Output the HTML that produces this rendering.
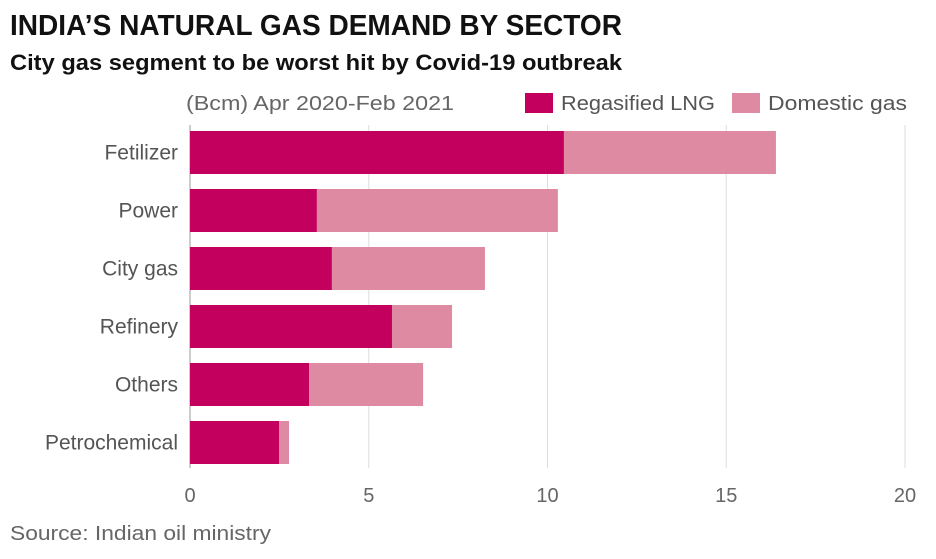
<!DOCTYPE html>
<html><head><meta charset="utf-8"><style>
body{margin:0;background:#fff;}
svg text{font-family:"Liberation Sans",sans-serif;}
</style></head><body>
<svg width="936" height="554" xmlns="http://www.w3.org/2000/svg">
<text x="10" y="35" font-size="29" font-weight="bold" fill="#111" textLength="612" lengthAdjust="spacingAndGlyphs">INDIA’S NATURAL GAS DEMAND BY SECTOR</text>
<text x="10" y="70" font-size="22" font-weight="bold" fill="#111" textLength="612" lengthAdjust="spacingAndGlyphs">City gas segment to be worst hit by Covid-19 outbreak</text>
<text x="186" y="110" font-size="20" fill="#666" textLength="268" lengthAdjust="spacingAndGlyphs">(Bcm) Apr 2020-Feb 2021</text>
<rect x="525" y="93" width="28" height="20" fill="#c4005f"/>
<text x="561" y="110" font-size="20" fill="#555" textLength="154" lengthAdjust="spacingAndGlyphs">Regasified LNG</text>
<rect x="732" y="93" width="28" height="20" fill="#de8aa2"/>
<text x="768" y="110" font-size="20" fill="#555" textLength="139" lengthAdjust="spacingAndGlyphs">Domestic gas</text>
<g id="grid"></g><g id="bars"></g><g id="labels"></g>
<text x="10" y="540" font-size="20" fill="#666" textLength="261" lengthAdjust="spacingAndGlyphs">Source: Indian oil ministry</text>
</svg>
<script>
const categories=["Fetilizer","Power","City gas","Refinery","Others","Petrochemical"];
const lng=[10.46,3.55,3.97,5.65,3.33,2.49];
const domestic=[5.93,6.74,4.28,1.68,3.19,0.28];
const ticks=[0,5,10,15,20];
const NS="http://www.w3.org/2000/svg";
const x0=190,x1=905,xs=v=>x0+(x1-x0)*v/20;
const rowY=i=>131+i*58,bh=43;
function mk(t,a,p){const e=document.createElementNS(NS,t);for(const k in a)e.setAttribute(k,a[k]);p.appendChild(e);return e;}
const g=document.getElementById('grid'),b=document.getElementById('bars'),l=document.getElementById('labels');
ticks.forEach(t=>{
 const ln=mk('line',{x1:xs(t),x2:xs(t),y1:125,y2:468,stroke:t===0?'#999':'#ddd','stroke-width':1},g);
 
 
 const tx=mk('text',{x:xs(t),y:502,'font-size':20,fill:'#666','text-anchor':'middle'},g);
 tx.textContent=t;
 
 
});
categories.forEach((c,i)=>{
 const y=rowY(i);
 const r1=mk('rect',{x:xs(0),y:y,width:xs(lng[i])-xs(0),height:bh,fill:'#c4005f'},b);
 
 
 const r2=mk('rect',{x:xs(lng[i]),y:y,width:xs(lng[i]+domestic[i])-xs(lng[i]),height:bh,fill:'#de8aa2'},b);
 
 
 const t=mk('text',{x:178,y:y+bh/2+7,'font-size':21,fill:'#555','text-anchor':'end'},l);
 t.textContent=c;
 
 
});
</script>
</body></html>
